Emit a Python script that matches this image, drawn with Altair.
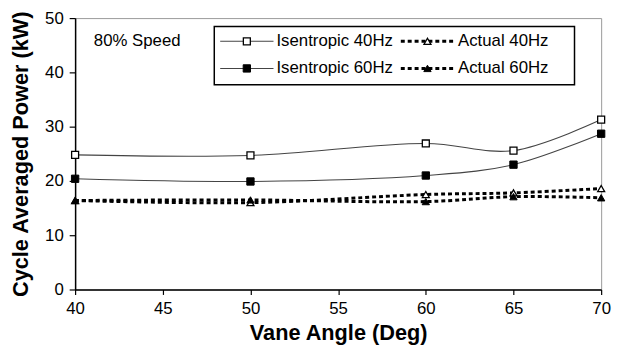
import altair as alt
import pandas as pd

angles = [40, 50, 60, 65, 70]
isen_40 = [24.8, 24.7, 26.9, 25.6, 31.3]
isen_60 = [20.4, 19.9, 21.0, 23.0, 28.7]
act_40 = [16.4, 16.0, 17.5, 17.8, 18.6]
act_60 = [16.4, 16.5, 16.2, 17.1, 16.9]
series_names = ["Isentropic 40Hz", "Isentropic 60Hz", "Actual 40Hz", "Actual 60Hz"]
x_ticks = [40, 45, 50, 55, 60, 65, 70]
y_ticks = [0, 10, 20, 30, 40, 50]
annotation = "80% Speed"

rows = []
for name, vals in zip(series_names, [isen_40, isen_60, act_40, act_60]):
    for a, v in zip(angles, vals):
        rows.append({"series": name, "angle": a, "power": v})
df = pd.DataFrame(rows)

FONT = "Liberation Sans"
W, H = 533, 275

x_enc = alt.X("angle:Q", scale=alt.Scale(domain=[40, 70], nice=False, zero=False),
              axis=alt.Axis(values=x_ticks, title="Vane Angle (Deg)", grid=False, labelFlush=False,
                            tickSize=5, labelPadding=6, titlePadding=7))
y_enc = alt.Y("power:Q", scale=alt.Scale(domain=[0, 50], nice=False),
              axis=alt.Axis(values=y_ticks, title="Cycle Averaged Power (kW)", grid=False, labelFlush=False,
                            tickSize=6, labelPadding=6, titlePadding=12))


def series(name):
    return alt.Chart(df).transform_filter(alt.datum.series == name)


layers = []
for name in ["Isentropic 40Hz", "Isentropic 60Hz"]:
    layers.append(series(name).mark_line(interpolate="catmull-rom", color="#444",
                                         strokeWidth=1.1).encode(x=x_enc, y=y_enc))
for name in ["Actual 40Hz", "Actual 60Hz"]:
    layers.append(series(name).mark_line(interpolate="catmull-rom", color="black",
                                         strokeWidth=3, strokeDash=[4, 3]).encode(x=x_enc, y=y_enc))

marker_styles = {
    "Isentropic 40Hz": dict(shape="square", filled=True, fill="white", stroke="black", strokeWidth=1.3, size=50),
    "Isentropic 60Hz": dict(shape="square", filled=True, fill="black", stroke="black", strokeWidth=1, size=55),
    "Actual 40Hz": dict(shape="triangle-up", filled=True, fill="white", stroke="black", strokeWidth=1.3, size=50),
    "Actual 60Hz": dict(shape="triangle-up", filled=True, fill="black", stroke="black", strokeWidth=1, size=55),
}
for name in ["Isentropic 40Hz", "Isentropic 60Hz", "Actual 40Hz", "Actual 60Hz"]:
    layers.append(series(name).mark_point(opacity=1, **marker_styles[name]).encode(x=x_enc, y=y_enc))

one = alt.Data(values=[{}])

layers.append(alt.Chart(one).mark_text(text=annotation, align="left", baseline="middle",
                                       font=FONT, fontSize=17, color="black")
              .encode(x=alt.value(19), y=alt.value(23.5)))

layers.append(alt.Chart(one).mark_rect(fill="white", stroke="black", strokeWidth=1.5)
              .encode(x=alt.value(141), x2=alt.value(506), y=alt.value(8.5), y2=alt.value(67.5)))

legend_cols = [(147, 201, 174, 204), (330, 383, 357, 388)]
legend_rows = [23.5, 51]
legend_grid = [["Isentropic 40Hz", "Actual 40Hz"], ["Isentropic 60Hz", "Actual 60Hz"]]
for r, yy in enumerate(legend_rows):
    for c, (x0, x1, xm, xt) in enumerate(legend_cols):
        name = legend_grid[r][c]
        if c == 0:
            layers.append(alt.Chart(one).mark_rule(color="#444", strokeWidth=1.1)
                          .encode(x=alt.value(x0), x2=alt.value(x1), y=alt.value(yy)))
        else:
            layers.append(alt.Chart(one).mark_rule(color="black", strokeWidth=3, strokeDash=[4, 3])
                          .encode(x=alt.value(x0), x2=alt.value(x1), y=alt.value(yy)))
        layers.append(alt.Chart(one).mark_point(opacity=1, **marker_styles[name])
                      .encode(x=alt.value(xm), y=alt.value(yy)))
        layers.append(alt.Chart(one).mark_text(text=name, align="left", baseline="middle",
                                               font=FONT, fontSize=17, color="black")
                      .encode(x=alt.value(xt), y=alt.value(yy)))

chart = alt.layer(*layers).properties(
    width=W, height=H,
    autosize=alt.AutoSizeParams(type="none"),
    padding={"left": 68, "top": 8, "right": 12, "bottom": 54},
    background="white",
).configure_view(
    stroke="#999", strokeWidth=1
).configure_axis(
    labelFont=FONT, labelFontSize=17, labelColor="black",
    titleFont=FONT, titleFontSize=22, titleFontWeight="bold", titleColor="black",
    domainColor="black", domainWidth=1.5, tickColor="black", tickWidth=1.2,
)

chart.save("out.html", embed_options={"renderer": "svg", "actions": False})
